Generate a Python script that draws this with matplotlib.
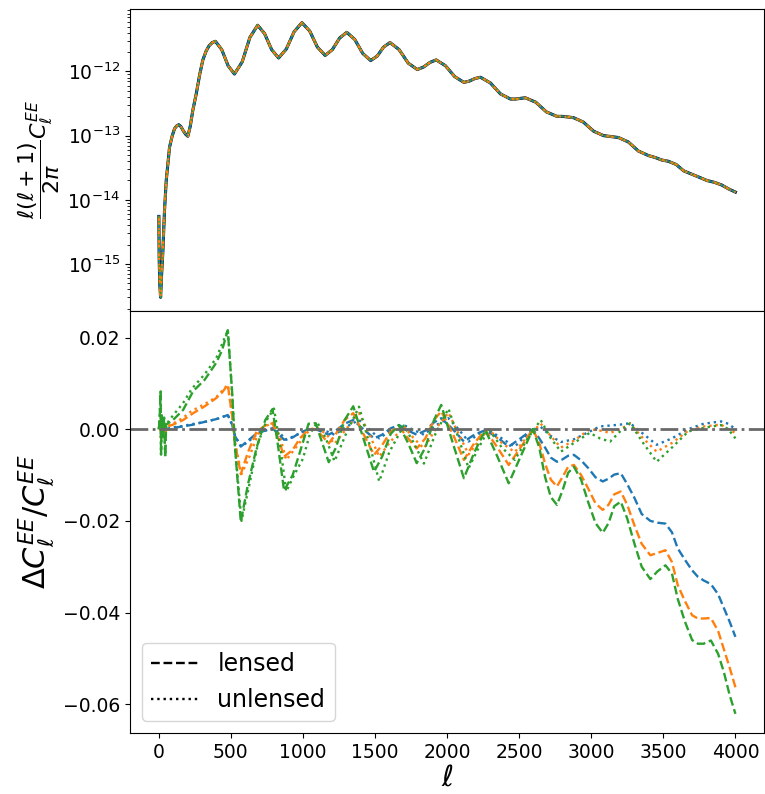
import numpy as np
import matplotlib
matplotlib.use("Agg")
from matplotlib import pyplot as plt

# top panel: l(l+1)C_l^EE/2pi (log10 values)
ell_top = [2, 4, 8, 14, 20, 30, 41, 53, 76, 95,
           111, 125, 140, 155, 170, 188, 203, 220, 237, 261,
           285, 307, 330, 350, 372, 394, 438, 482, 526, 580,
           633, 687, 735, 784, 832, 886, 940, 994, 1048, 1101,
           1155, 1205, 1255, 1305, 1360, 1416, 1471, 1516, 1560, 1605,
           1668, 1731, 1794, 1838, 1881, 1925, 1989, 2053, 2117, 2155,
           2194, 2232, 2301, 2371, 2440, 2475, 2509, 2543, 2616, 2689,
           2762, 2800, 2840, 2877, 2946, 3016, 3085, 3120, 3155, 3189,
           3258, 3327, 3396, 3442, 3489, 3535, 3589, 3642, 3696, 3750,
           3803, 3857, 3905, 3952, 4000]
log_dl = [-14.26, -14.9, -15.3, -15.52, -15.2, -14.79, -14.17, -13.70, -13.18, -13.0,
          -12.89, -12.85, -12.83, -12.86, -12.92, -12.98, -13.01, -12.85, -12.61, -12.35,
          -12.05, -11.82, -11.68, -11.60, -11.55, -11.53, -11.66, -11.91, -12.04, -11.85,
          -11.47, -11.28, -11.41, -11.66, -11.79, -11.65, -11.38, -11.24, -11.37, -11.62,
          -11.75, -11.66, -11.48, -11.39, -11.50, -11.72, -11.83, -11.76, -11.62, -11.55,
          -11.66, -11.87, -11.97, -11.93, -11.86, -11.82, -11.91, -12.08, -12.17, -12.15,
          -12.11, -12.09, -12.18, -12.35, -12.43, -12.43, -12.42, -12.41, -12.48, -12.63,
          -12.70, -12.70, -12.71, -12.72, -12.79, -12.93, -13.00, -13.01, -13.02, -13.03,
          -13.10, -13.24, -13.31, -13.34, -13.38, -13.40, -13.45, -13.55, -13.60, -13.65,
          -13.70, -13.73, -13.77, -13.83, -13.88]

# bottom panel, lensed (dashed)
ell_lensed = [2, 8, 14, 17, 22, 30, 38, 46, 52, 100, 170, 240, 320, 400, 440,
              480, 510, 530, 570, 620, 680, 740, 790, 830, 870, 930, 980,
              1040, 1090, 1135, 1180, 1230, 1290, 1350, 1420, 1494, 1550, 1610, 1667,
              1730, 1790, 1850, 1910, 1960, 2040, 2117, 2190, 2266, 2350, 2428, 2510,
              2595, 2640, 2680, 2720, 2762, 2800, 2840, 2880, 2930, 2980, 3030, 3080,
              3120, 3160, 3205, 3250, 3300, 3350, 3410, 3460, 3515, 3560, 3600, 3650,
              3700, 3740, 3780, 3830, 3880, 3920, 3960, 4000]
lensed_c0 = [0.0, 0.0005, 0.001, -0.001, 0.0005, -0.0005, 0.0005, -0.001, 0.0,
             0.0003, 0.0006, 0.001, 0.0016, 0.0022, 0.0026,
             0.0031, 0.001, -0.0015, -0.0038,
             -0.0025, -0.0009, -0.0003, 0.0002,
             -0.001, -0.0023, -0.0018, -0.0008,
             0.0, 0.0, -0.0006, -0.0012,
             -0.0003, 0.0012, 0.002, 0.0,
             -0.002, -0.0012, 0.0002, 0.0009,
             -0.0003, -0.0012, -0.0003, 0.0015,
             0.0024, 0.0, -0.0027, -0.0012,
             -0.0002, -0.0018, -0.0038, -0.002,
             0.0, -0.002, -0.004, -0.0062, -0.0071, -0.0066, -0.0058, -0.0056,
             -0.0068, -0.0085, -0.0105, -0.0114, -0.0108, -0.0099, -0.0096, -0.012,
             -0.015, -0.0185, -0.0200, -0.0204, -0.0206, -0.0225, -0.026, -0.0285,
             -0.0308, -0.0322, -0.0330, -0.0338, -0.036, -0.039, -0.042, -0.0453]
lensed_c1 = [0.0, 0.001, 0.002, -0.002, 0.001, -0.001, 0.001, -0.002, 0.0005,
             0.001, 0.002, 0.0035, 0.005, 0.0068, 0.008,
             0.0097, 0.003, -0.003, -0.0098,
             -0.005, -0.0005, 0.0008, 0.0013,
             -0.002, -0.006, -0.0045, -0.002,
             0.0, 0.0, -0.0015, -0.0031,
             -0.001, 0.002, 0.0035, -0.001,
             -0.0056, -0.0035, -0.0005, 0.0006,
             -0.002, -0.0042, -0.002, 0.002,
             0.0039, -0.001, -0.0067, -0.003,
             -0.0002, -0.004, -0.0078, -0.004,
             0.0, -0.003, -0.0075, -0.011, -0.0125, -0.0105, -0.0082, -0.0078,
             -0.010, -0.013, -0.0162, -0.0176, -0.0165, -0.0142, -0.0136, -0.0165,
             -0.021, -0.025, -0.0275, -0.027, -0.0264, -0.029, -0.034, -0.0375,
             -0.0406, -0.0413, -0.0413, -0.0412, -0.044, -0.048, -0.052, -0.0563]
lensed_c2 = [0.0, 0.003, 0.0082, -0.0055, 0.003, -0.002, 0.0025, -0.006, 0.001,
             0.002, 0.0042, 0.0083, 0.0108, 0.0145, 0.0172,
             0.0216, 0.008, -0.004, -0.0202,
             -0.012, -0.004, 0.002, 0.0044,
             -0.004, -0.0134, -0.010, -0.005,
             0.0012, 0.0013, -0.003, -0.0072,
             -0.004, 0.002, 0.005, -0.002,
             -0.0093, -0.006, -0.001, 0.0009,
             -0.003, -0.0074, -0.004, 0.002,
             0.0053, -0.003, -0.0107, -0.005,
             -0.0002, -0.006, -0.0118, -0.006,
             0.0, -0.004, -0.0104, -0.0148, -0.0165, -0.0135, -0.0095, -0.0082,
             -0.011, -0.016, -0.0205, -0.0226, -0.0205, -0.0168, -0.0158, -0.0195,
             -0.025, -0.030, -0.0327, -0.031, -0.0297, -0.0315, -0.037, -0.042,
             -0.046, -0.0468, -0.0468, -0.0461, -0.049, -0.053, -0.058, -0.0621]

# bottom panel, unlensed (dotted)
ell_unlensed = [2, 8, 14, 17, 22, 30, 38, 46, 52, 100, 170, 230, 320, 400,
                480, 510, 530, 575, 630, 690, 750, 800, 845, 885, 940, 1000,
                1050, 1100, 1160, 1220, 1300, 1390, 1460, 1530, 1600, 1700, 1770, 1840,
                1920, 2010, 2080, 2150, 2220, 2290, 2380, 2470, 2560, 2650, 2720, 2790,
                2880, 2990, 3060, 3131, 3200, 3270, 3360, 3454, 3560, 3673, 3780, 3900,
                3950, 4000]
unlensed_c0 = [0.0, 0.0005, 0.001, -0.001, 0.0005, -0.0005, 0.0005, -0.001, 0.0,
               0.0004, 0.0007, 0.0011, 0.0016, 0.0022,
               0.0031, 0.001, -0.0015, -0.0038,
               -0.0025, -0.0009, -0.0002, 0.0002,
               -0.001, -0.0023, -0.0015, -0.0006,
               0.0, 0.0, -0.0004, -0.0012,
               0.0005, 0.0020, 0.0, -0.0020,
               -0.0005, 0.0009, -0.0002, -0.0012,
               0.0008, 0.0024, 0.0, -0.0027,
               -0.001, -0.0002, -0.002, -0.0038,
               -0.001, 0.0005, -0.0015, -0.0028,
               -0.0022, -0.0005, 0.0006, 0.0008,
               0.0010, 0.0013, -0.001, -0.0034,
               -0.002, 0.0, 0.0012, 0.0017,
               0.0012, 0.0]
unlensed_c1 = [0.0, 0.001, 0.002, -0.002, 0.001, -0.001, 0.001, -0.002, 0.0005,
               0.0012, 0.0025, 0.004, 0.0055, 0.007,
               0.0097, 0.003, -0.003, -0.0098,
               -0.006, -0.001, 0.0008, 0.0015,
               -0.002, -0.0067, -0.0045, -0.002,
               0.0, 0.0003, -0.001, -0.0032,
               0.0, 0.0035, -0.001, -0.0060,
               -0.003, 0.0006, -0.002, -0.0042,
               0.0, 0.0036, -0.001, -0.0055,
               -0.0025, 0.0, -0.003, -0.0050,
               -0.0015, 0.0012, -0.0015, -0.0040,
               -0.0025, 0.0, -0.0003, -0.0008,
               0.0, 0.0012, -0.002, -0.0049,
               -0.003, -0.0003, 0.0006, 0.0010,
               0.0, -0.0008]
unlensed_c2 = [0.0, 0.003, 0.0082, -0.0055, 0.003, -0.002, 0.0025, -0.006, 0.001,
               0.003, 0.0057, 0.0088, 0.012, 0.0155,
               0.0216, 0.008, -0.004, -0.0200,
               -0.012, -0.003, 0.002, 0.0045,
               -0.004, -0.0136, -0.010, -0.0065,
               -0.001, 0.0015, -0.002, -0.0070,
               -0.001, 0.0049, -0.003, -0.0114,
               -0.005, 0.0008, -0.003, -0.0075,
               -0.001, 0.0045, -0.002, -0.0085,
               -0.004, 0.0, -0.004, -0.0067,
               -0.002, 0.002, -0.002, -0.0049,
               -0.003, -0.0008, -0.002, -0.0027,
               -0.0005, 0.0013, -0.003, -0.0071,
               -0.004, -0.0005, 0.0003, 0.0009,
               0.0, -0.002]

colors = ["C0", "C1", "C2"]
lensed = [lensed_c0, lensed_c1, lensed_c2]
unlensed = [unlensed_c0, unlensed_c1, unlensed_c2]

fig = plt.figure(figsize=(7.65, 7.94), dpi=100)
ax1 = fig.add_axes([0.170, 0.6083, 0.829, 0.3804])
ax2 = fig.add_axes([0.170, 0.0768, 0.829, 0.5315], sharex=ax1)

dl = 10.0 ** np.array(log_dl)
ax1.plot(ell_top, dl, color="k", lw=2.2)
ax1.plot(ell_top, dl, color="C0", lw=1.6)
ax1.plot(ell_top, dl, color="C1", lw=1.6, ls="--")
ax1.plot(ell_top, dl, color="C2", lw=1.2, ls=":")
ax1.set_yscale("log")
ax1.set_ylabel(r"$\dfrac{\ell(\ell+1)}{2\pi}C_\ell^{EE}$", fontsize=16, labelpad=4)
ax1.tick_params(labelsize=13.5, labelbottom=False)

for c, y_l, y_u in zip(colors, lensed, unlensed):
    ax2.plot(ell_lensed, y_l, color=c, ls="--", lw=1.7)
    ax2.plot(ell_unlensed, y_u, color=c, ls=":", lw=1.7)
ax2.axhline(0, color="dimgray", ls="-.", lw=2)

ax2.plot([], [], "k--", lw=1.7, label="lensed")
ax2.plot([], [], "k:", lw=1.7, label="unlensed")
ax2.legend(loc="lower left", fontsize=17)

ax2.set_yticks([0.02, 0.0, -0.02, -0.04, -0.06])
ax2.set_xlabel(r"$\ell$", fontsize=21, labelpad=1)
ax2.set_ylabel(r"$\Delta C_\ell^{EE}/C_\ell^{EE}$", fontsize=22)
ax2.tick_params(labelsize=13.5)

fig.savefig("out.png", dpi=100)
